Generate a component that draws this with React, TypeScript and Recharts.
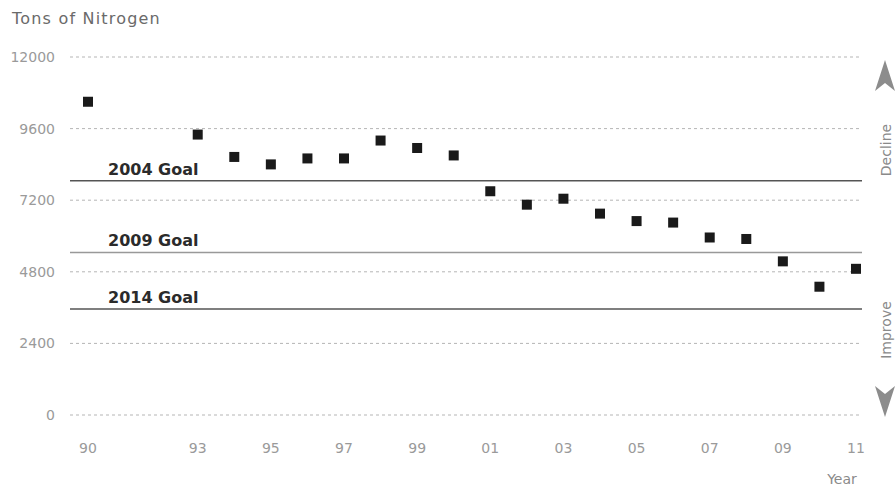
import {
  ScatterChart,
  Scatter,
  XAxis,
  YAxis,
  CartesianGrid,
  ReferenceLine,
} from 'recharts'

const years = [1990, 1993, 1994, 1995, 1996, 1997, 1998, 1999, 2000, 2001, 2002, 2003, 2004, 2005, 2006, 2007, 2008, 2009, 2010, 2011]
const tons = [10500, 9400, 8650, 8400, 8600, 8600, 9200, 8950, 8700, 7500, 7050, 7250, 6750, 6500, 6450, 5950, 5900, 5150, 4300, 4900]
const yearTicks = [1990, 1993, 1995, 1997, 1999, 2001, 2003, 2005, 2007, 2009, 2011]
const tonTicks = [0, 2400, 4800, 7200, 9600, 12000]
const goals = [
  { label: '2004 Goal', value: 7850, color: '#555' },
  { label: '2009 Goal', value: 5450, color: '#999' },
  { label: '2014 Goal', value: 3550, color: '#555' },
]

const data = years.map((y, i) => ({ year: y, tons: tons[i] }))

const tickStyle = { fill: '#9a9a9a', fontSize: 14, fontFamily: 'DejaVu Sans' }
const sideText = { fill: '#8a8a8a', fontSize: 14, fontFamily: 'DejaVu Sans' }

function Square(props: any) {
  const { cx, cy } = props
  return <rect x={cx - 5} y={cy - 5} width={10} height={10} fill="#1a1a1a" />
}

function goalLabel(text: string) {
  return (props: any) => {
    const vb = props.viewBox
    return (
      <text
        x={vb.x + 38}
        y={vb.y - 6}
        fill="#2b2b2b"
        fontSize={16}
        fontWeight="bold"
        fontFamily="DejaVu Sans"
      >
        {text}
      </text>
    )
  }
}

export default function App() {
  return (
    <div style={{ position: 'absolute', left: 0, top: 0, width: 896, height: 489, background: '#fff' }}>
      <ScatterChart
        width={896}
        height={489}
        margin={{ top: 57, right: 34, left: 10, bottom: 44 }}
      >
        <CartesianGrid
          horizontal
          vertical={false}
          stroke="#b5b5b5"
          strokeDasharray="3 3"
        />
        <XAxis
          type="number"
          dataKey="year"
          domain={[1990, 2011]}
          ticks={yearTicks}
          tickFormatter={(v: number) => String(v).slice(2)}
          padding={{ left: 18, right: 6 }}
          axisLine={false}
          tickLine={false}
          tickSize={0}
          tickMargin={28}
          height={30}
          tick={tickStyle}
          interval={0}
        />
        <YAxis
          type="number"
          dataKey="tons"
          domain={[0, 12000]}
          ticks={tonTicks}
          axisLine={false}
          tickLine={false}
          tickSize={0}
          tickMargin={15}
          width={60}
          tick={tickStyle}
          interval={0}
        />
        {goals.map((g) => (
          <ReferenceLine
            key={g.label}
            y={g.value}
            stroke={g.color}
            strokeWidth={1.5}
            label={goalLabel(g.label)}
          />
        ))}
        <Scatter data={data} shape={Square} isAnimationActive={false} />
      </ScatterChart>
      <svg
        width={896}
        height={489}
        style={{ position: 'absolute', left: 0, top: 0, pointerEvents: 'none' }}
      >
        <text x={12} y={24} fill="#6a6a6a" fontSize={16} fontFamily="DejaVu Sans" letterSpacing={1.2}>
          Tons of Nitrogen
        </text>
        <text x={842} y={484} textAnchor="middle" {...sideText}>
          Year
        </text>
        <polygon points="885,60 875,91 885,83 895,91" fill="#8c8c8c" />
        <polygon points="885,417 875,386 885,394 895,386" fill="#8c8c8c" />
        <text transform="translate(891,150) rotate(-90)" textAnchor="middle" {...sideText}>
          Decline
        </text>
        <text transform="translate(891,330) rotate(-90)" textAnchor="middle" {...sideText}>
          Improve
        </text>
      </svg>
    </div>
  )
}
